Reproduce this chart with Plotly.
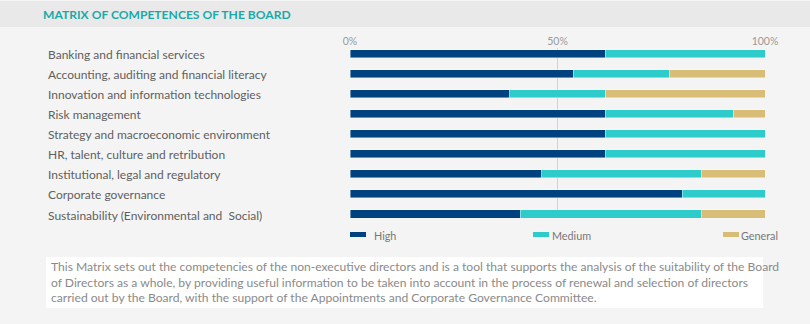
import plotly.graph_objects as go

categories = [
    "Banking and financial services",
    "Accounting, auditing and financial literacy",
    "Innovation and information technologies",
    "Risk management",
    "Strategy and macroeconomic environment",
    "HR, talent, culture and retribution",
    "Institutional, legal and regulatory",
    "Corporate governance",
    "Sustainability (Environmental and  Social)",
]
high = [61.5, 53.8, 38.5, 61.5, 61.5, 61.5, 46.2, 80.0, 41.0]
medium = [38.5, 23.1, 23.1, 30.8, 38.5, 38.5, 38.4, 20.0, 43.6]
general = [0.0, 23.1, 38.4, 7.7, 0.0, 0.0, 15.4, 0.0, 15.4]
series_names = ["High", "Medium", "General"]
colors = ["#00427f", "#2ecbcb", "#d8bd77"]
x_ticks = [0, 50, 100]
x_tick_labels = ["0%", "50%", "100%"]
title_text = "MATRIX OF COMPETENCES OF THE BOARD"
footer_text = ("This Matrix sets out the competencies of the non-executive directors and is a tool that supports the analysis of the suitability of the Board<br>"
               "of Directors as a whole, by providing useful information to be taken into account in the process of renewal and selection of directors<br>"
               "carried out by the Board, with the support of the Appointments and Corporate Governance Committee.")

W, H = 810, 324
PL, PR, PT, PB = 350, 765, 48, 218  # plot area in px


def px_x(px):
    return (px - PL) / (PR - PL)


def px_y(py):
    return (PB - py) / (PB - PT)


FONT = "Lato, 'Open Sans', sans-serif"

fig = go.Figure()
for name, vals, col in zip(series_names, [high, medium, general], colors):
    fig.add_trace(go.Bar(
        y=categories, x=vals, name=name, orientation="h",
        marker=dict(color=col, line=dict(color="rgba(255,255,255,0.7)", width=0.6)),
        width=0.4, showlegend=False,
    ))

shapes = []
annotations = []
# header band
shapes.append(dict(type="rect", xref="paper", yref="paper", layer="below",
                   x0=px_x(0), x1=px_x(W), y0=px_y(27), y1=px_y(1),
                   fillcolor="#e9e9e9", line=dict(width=0)))
annotations.append(dict(text="<b>" + title_text + "</b>", xref="paper", yref="paper",
                        x=px_x(41), y=px_y(14), xanchor="left", yanchor="middle",
                        showarrow=False, font=dict(family=FONT, size=12.1, color="#1aa9a9")))
# footer box
shapes.append(dict(type="rect", xref="paper", yref="paper", layer="below",
                   x0=px_x(46), x1=px_x(763), y0=px_y(308), y1=px_y(257),
                   fillcolor="#ffffff", line=dict(width=0)))
annotations.append(dict(text=footer_text, xref="paper", yref="paper",
                        x=px_x(49), y=px_y(282), xanchor="left", yanchor="middle", align="left",
                        showarrow=False, font=dict(family=FONT, size=12.1, color="#8a8a8a")))
# category labels
for c in categories:
    annotations.append(dict(text=c, xref="paper", yref="y", x=px_x(46), y=c,
                            xanchor="left", yanchor="middle", showarrow=False, yshift=-1,
                            font=dict(family=FONT, size=12, color="#5f5f5f")))
# legend
leg_x = [350, 533, 723]
leg_tx = [372, 550, 739]
for name, col, lx, tx in zip(series_names, colors, leg_x, leg_tx):
    shapes.append(dict(type="rect", xref="paper", yref="paper",
                       x0=px_x(lx), x1=px_x(lx + 16), y0=px_y(237), y1=px_y(232),
                       fillcolor=col, line=dict(width=0)))
    annotations.append(dict(text=name, xref="paper", yref="paper", x=px_x(tx), y=px_y(235),
                            xanchor="left", yanchor="middle", showarrow=False,
                            font=dict(family=FONT, size=10.8, color="#777777")))

fig.update_layout(
    width=W, height=H,
    margin=dict(l=PL, r=W - PR, t=PT, b=H - PB, pad=0),
    paper_bgcolor="#f4f4f4", plot_bgcolor="#f4f4f4",
    barmode="stack", bargap=0.6,
    shapes=shapes, annotations=annotations,
    font=dict(family=FONT),
    xaxis=dict(side="top", range=[0, 100], tickvals=x_ticks, ticktext=x_tick_labels,
               showgrid=True, gridcolor="#d3d3d3", gridwidth=1, zeroline=False,
               showline=False, ticks="", tickfont=dict(size=10.5, color="#9a9a9a"),
               fixedrange=True),
    yaxis=dict(categoryorder="array", categoryarray=categories, autorange=False,
               range=[8.2, -0.29], showticklabels=False, showgrid=False,
               zeroline=False, showline=False, fixedrange=True),
)

fig.write_html("out.html")
